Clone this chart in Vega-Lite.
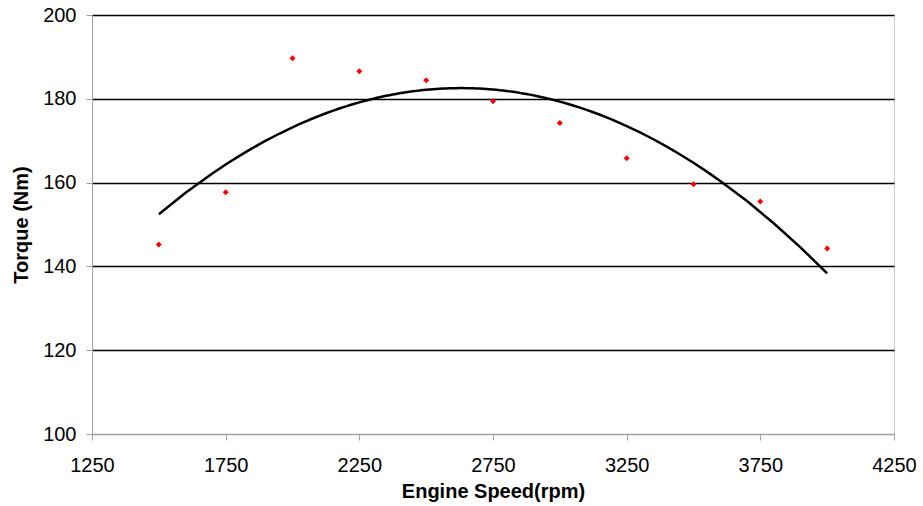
{
  "$schema": "https://vega.github.io/schema/vega-lite/v6.json",
  "width": 802,
  "height": 419,
  "autosize": {"type": "none"},
  "padding": {"left": 92, "top": 15, "right": 29, "bottom": 72},
  "background": "white",
  "config": {
    "view": {"stroke": "#c8c8c8", "strokeWidth": 1},
    "font": "Liberation Sans",
    "axis": {
      "labelFont": "Liberation Sans",
      "titleFont": "Liberation Sans",
      "labelColor": "black",
      "titleColor": "black",
      "domainColor": "#a0a0a0",
      "tickColor": "#a0a0a0",
      "tickSize": 6,
      "labelFontSize": 20,
      "titleFontWeight": "bold"
    }
  },
  "data": {
    "values": [
      {"rpm": 1500, "torque": 145.2},
      {"rpm": 1750, "torque": 157.7},
      {"rpm": 2000, "torque": 189.7},
      {"rpm": 2250, "torque": 186.6},
      {"rpm": 2500, "torque": 184.4},
      {"rpm": 2750, "torque": 179.4},
      {"rpm": 3000, "torque": 174.2},
      {"rpm": 3250, "torque": 165.8},
      {"rpm": 3500, "torque": 159.6},
      {"rpm": 3750, "torque": 155.5},
      {"rpm": 4000, "torque": 144.3}
    ]
  },
  "encoding": {
    "x": {
      "field": "rpm",
      "type": "quantitative",
      "scale": {"domain": [1250, 4250], "nice": false, "zero": false},
      "axis": {
        "title": "Engine Speed(rpm)",
        "titleFontSize": 20,
        "titlePadding": 6,
        "values": [1250, 1750, 2250, 2750, 3250, 3750, 4250],
        "format": "d",
        "grid": false,
        "labelPadding": 15,
        "labelFlush": false,
        "labelOverlap": false
      }
    },
    "y": {
      "field": "torque",
      "type": "quantitative",
      "scale": {"domain": [100, 200], "nice": false, "zero": false},
      "axis": {
        "title": "Torque (Nm)",
        "titleFontSize": 20,
        "titlePadding": 11,
        "values": [100, 120, 140, 160, 180, 200],
        "grid": true,
        "gridColor": {"condition": {"test": "datum.value == 100", "value": "#a0a0a0"}, "value": "black"},
        "gridWidth": 1.3,
        "labelPadding": 10,
        "labelFlush": false,
        "labelOverlap": false
      }
    }
  },
  "layer": [
    {
      "transform": [
        {"regression": "torque", "on": "rpm", "method": "poly", "order": 2, "extent": [1500, 4000]}
      ],
      "mark": {"type": "line", "color": "black", "strokeWidth": 2.5}
    },
    {
      "mark": {"type": "point", "shape": "diamond", "filled": true, "color": "#ff0000", "size": 36, "opacity": 1}
    }
  ]
}
